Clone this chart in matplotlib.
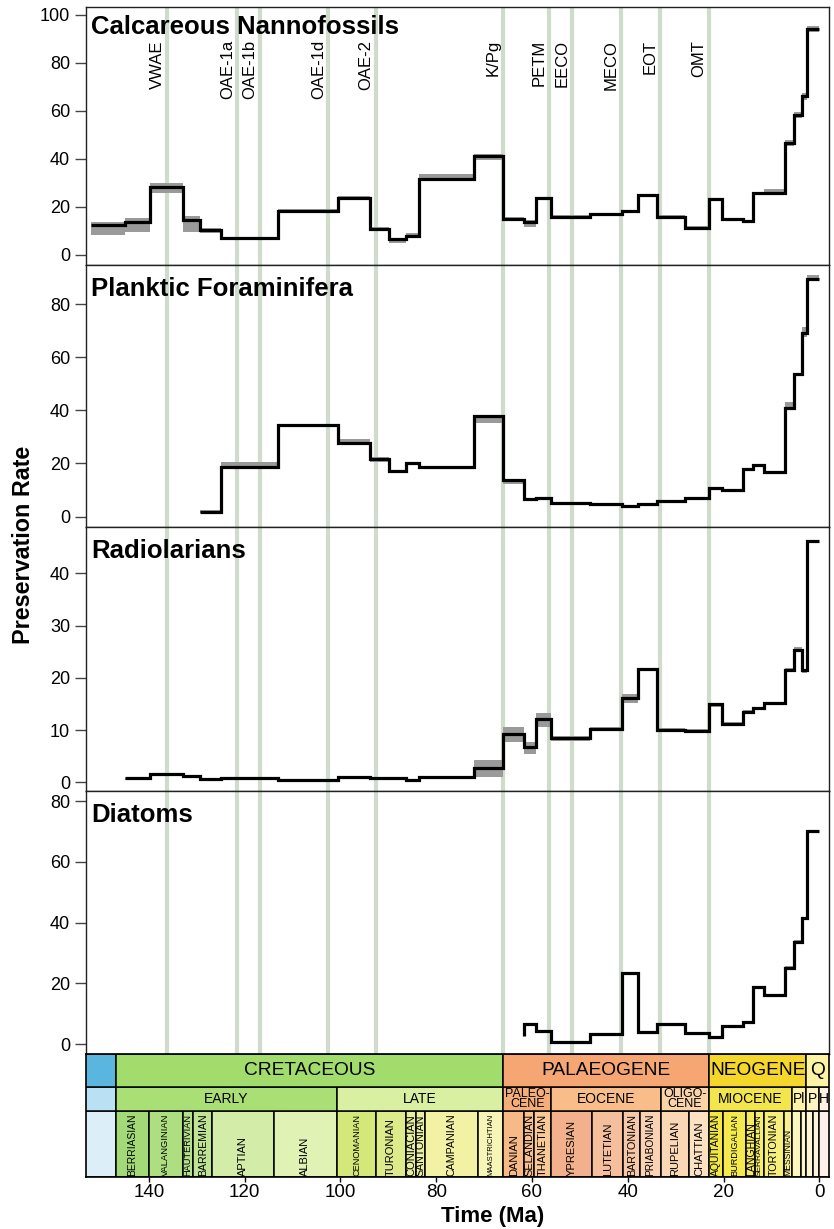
import matplotlib
matplotlib.use('Agg')
import matplotlib.pyplot as plt
from matplotlib.patches import Rectangle
import numpy as np

plt.rcParams['font.family'] = ['Liberation Sans', 'DejaVu Sans']

nan = np.nan

# ---- time bins of the rate curves (older edge, Ma) ----
bin_start = [157.3, 152.1, 145.0, 139.8, 132.9, 129.4, 125.0, 113.0, 100.5,
             93.9, 89.8, 86.3, 83.6, 72.1, 66.0, 61.6, 59.2, 56.0, 47.8,
             41.2, 37.8, 33.9, 28.1, 23.03, 20.44, 15.97, 13.82, 11.63,
             7.246, 5.333, 3.6, 2.58]
bin_end = bin_start[1:] + [0.0]

# ---- preservation rates (value, lower, upper) per bin ----
nanno_rate = [12.4, 12.4, 13.9, 28.5, 14.6, 10.4, 7.0, 18.5, 23.9, 11.0, 6.5,
              7.9, 31.7, 41.4, 15.0, 13.9, 23.6, 16.0, 17.1, 18.2, 24.9, 16.0,
              11.4, 23.3, 15.0, 14.2, 25.7, 26.0, 46.8, 58.3, 66.4, 94.2]
nanno_lo = [12.4, 8.3, 9.5, 26.0, 9.7, 9.0, 6.5, 18.0, 22.9, 10.5, 5.1,
            7.4, 31.3, 39.6, 14.2, 11.8, 23.1, 15.5, 16.6, 17.7, 24.4, 15.5,
            10.9, 22.8, 14.5, 13.7, 25.2, 25.8, 45.4, 57.0, 64.5, 92.9]
nanno_hi = [12.4, 13.9, 15.3, 30.1, 16.3, 11.1, 7.5, 19.0, 24.6, 11.5, 7.0,
            9.0, 33.8, 42.1, 15.8, 14.5, 24.1, 16.5, 17.6, 18.7, 25.4, 16.5,
            11.9, 23.8, 15.5, 14.7, 26.2, 27.4, 47.9, 59.5, 67.5, 95.4]

plank_rate = [nan, nan, nan, nan, 1.9, 1.9, 18.8, 34.5, 27.6, 21.7, 17.3,
              20.1, 18.8, 37.9, 13.8, 6.7, 7.0, 5.0, 4.7, 4.1, 4.7, 6.0,
              6.9, 10.9, 10.0, 17.9, 19.4, 16.7, 40.8, 53.6, 69.0, 89.3]
plank_lo = [nan, nan, nan, nan, 1.9, 1.5, 18.2, 34.1, 27.2, 20.7, 16.9,
            19.7, 18.4, 35.1, 12.3, 6.3, 6.6, 4.6, 4.3, 3.7, 4.3, 5.6,
            6.5, 10.5, 9.6, 17.5, 19.0, 16.3, 40.4, 53.2, 67.7, 88.9]
plank_hi = [nan, nan, nan, nan, 1.9, 2.3, 20.7, 34.9, 29.2, 22.6, 17.7,
            20.5, 19.2, 38.3, 14.2, 7.1, 7.4, 5.4, 5.1, 4.5, 5.1, 6.4,
            7.3, 11.3, 10.4, 18.3, 19.8, 17.1, 43.2, 54.0, 71.5, 90.9]

rad_rate = [nan, 0.8, 0.8, 1.6, 1.2, 0.6, 0.9, 0.4, 1.1, 0.9, 0.9, 0.4,
            1.1, 2.7, 9.2, 6.8, 12.1, 8.4, 10.2, 16.1, 21.6, 10.0, 9.9,
            14.9, 11.2, 13.5, 14.2, 15.1, 21.5, 25.3, 21.5, 46.2]
rad_lo = [nan, 0.8, 0.4, 1.4, 1.0, 0.4, 0.7, 0.2, 0.9, 0.7, 0.7, 0.2,
          0.9, 1.0, 7.8, 5.5, 10.6, 8.0, 9.9, 15.2, 21.3, 9.7, 9.6,
          14.5, 10.9, 13.2, 13.9, 14.8, 21.2, 25.0, 20.9, 46.0]
rad_hi = [nan, 0.8, 0.9, 1.8, 1.4, 0.8, 1.1, 0.6, 1.3, 1.1, 1.1, 0.6,
          1.3, 4.3, 10.6, 7.8, 13.2, 8.8, 10.5, 16.9, 21.9, 10.3, 10.2,
          15.2, 11.5, 13.8, 14.5, 15.4, 21.8, 25.8, 21.7, 46.4]

diat_rate = [nan] * 14 + [2.6, 6.6, 4.4, 0.6, 3.2, 23.3, 4.1, 6.6, 3.7, 2.4,
                          5.9, 7.4, 18.9, 16.1, 25.1, 33.7, 41.4, 70.1]
diat_lo = [nan] * 14 + [2.6, 6.3, 4.1, 0.3, 2.9, 23.0, 3.8, 6.3, 3.4, 2.1,
                        5.6, 7.1, 18.6, 15.8, 24.6, 33.2, 40.9, 69.8]
diat_hi = [nan] * 14 + [2.6, 6.9, 4.7, 0.9, 3.5, 23.6, 4.4, 6.9, 4.0, 2.7,
                        6.2, 7.7, 19.2, 16.4, 25.6, 34.2, 41.9, 70.4]

panel_titles = ['Calcareous Nannofossils', 'Planktic Foraminifera',
                'Radiolarians', 'Diatoms']
panel_ylims = [(-4.2, 103.2), (-3.8, 94.7), (-1.6, 48.9), (-3.1, 83.4)]
panel_yticks = [np.arange(0, 101, 20), np.arange(0, 81, 20),
                np.arange(0, 41, 10), np.arange(0, 81, 20)]

# ---- events ----
event_names = ['VWAE', 'OAE-1a', 'OAE-1b', 'OAE-1d', 'OAE-2', 'K/Pg',
               'PETM', 'EECO', 'MECO', 'EOT', 'OMT']
event_ages = [136.1, 121.5, 116.8, 102.5, 92.6, 66.0, 56.5, 51.6, 41.5,
              33.3, 23.1]

# ---- timescale (as drawn under the plot) ----
period_names = ['', 'CRETACEOUS', 'PALAEOGENE', 'NEOGENE', 'Q']
period_edges = [160, 146.8, 66.0, 23.0, 2.8, -5]
period_colors = ['#5BB6DF', '#A2DC6C', '#F5A673', '#F4D72A', '#FCF3A5']

epoch_names = ['', 'EARLY', 'LATE', 'PALEO-\nCENE', 'EOCENE', 'OLIGO-\nCENE',
               'MIOCENE', 'Pl', 'P', 'H']
epoch_edges = [160, 146.8, 100.7, 66.0, 56.0, 33.1, 23.0, 5.8, 2.8, 0.0, -5]
epoch_colors = ['#B9E1F3', '#A9DF75', '#D9F0A3', '#F6AE79', '#F8BD88',
                '#FAD4A8', '#F3E64C', '#FBF2A7', '#FDF4C2', '#FDF0E4']

stage_names = ['', 'BERRIASIAN', 'VALANGINIAN', 'HAUTERIVIAN', 'BARREMIAN',
               'APTIAN', 'ALBIAN', 'CENOMANIAN', 'TURONIAN', 'CONIACIAN',
               'SANTONIAN', 'CAMPANIAN', 'MAASTRICHTIAN', 'DANIAN',
               'SELANDIAN', 'THANETIAN', 'YPRESIAN', 'LUTETIAN', 'BARTONIAN',
               'PRIABONIAN', 'RUPELIAN', 'CHATTIAN', 'AQUITANIAN',
               'BURDIGALIAN', 'LANGHIAN', 'SERRAVALLIAN', 'TORTONIAN',
               'MESSINIAN', '', '', '', '', '']
stage_edges = [160, 146.8, 140.0, 132.9, 130.7, 126.7, 113.9, 100.7, 92.5,
               86.3, 84.2, 82.3, 71.3, 66.0, 61.6, 59.5, 56.0, 47.5, 40.9,
               37.4, 33.1, 27.3, 23.0, 20.2, 15.3, 13.4, 11.6, 7.4, 5.8,
               3.9, 2.8, 1.4, 0.0, -5]
stage_colors = ['#DCEFF9', '#A3DA77', '#ADDE80', '#B5E18A', '#BFE494',
                '#D3ECA8', '#E1F2B5', '#D4E779', '#DEEB8B', '#E6EE99',
                '#EBF0A4', '#F3F2A4', '#F7F4B8', '#F7B985', '#F8C18F',
                '#F8C897', '#F3B08C', '#F5BE9D', '#F7C8A8', '#F9D1B3',
                '#FBD8B5', '#FCE2C3', '#F3E843', '#F4EA4E', '#F5EB5C',
                '#F6ED6C', '#F7EF7C', '#F8F08D', '#FBF5BE', '#FCF6C9',
                '#FDF5D6', '#FDF3DC', '#FDF0EA']

W, H = 834, 1229
XLIM = (153.1, -2.0)
X0, X1 = 86, 829
panel_px = [(7.3, 265.0), (265.0, 526.7), (526.7, 790.7), (790.7, 1053.5)]
ts_px = (1053.5, 1177.0)
title_drop = [5.5, 8.6, 8.6, 8.6]  # points below the panel top


def add_ax(top, bot):
    return fig.add_axes([X0 / W, 1 - bot / H, (X1 - X0) / W, (bot - top) / H])


def draw_series(ax, rate, lo, hi):
    rate = np.asarray(rate, float)
    idx = np.where(~np.isnan(rate))[0]
    # grey uncertainty boxes
    for i in idx[1:]:
        ax.fill_between([bin_start[i], bin_end[i]], lo[i], hi[i],
                        color='#9a9a9a', lw=0, zorder=2)
    # step line: first bin only shows as a stub at its young edge
    xs, ys = [bin_end[idx[0]]], [rate[idx[0]]]
    for i in idx[1:]:
        xs += [bin_start[i], bin_end[i]]
        ys += [rate[i], rate[i]]
    ax.plot(xs, ys, color='black', lw=2.3, solid_joinstyle='miter',
            solid_capstyle='butt', zorder=3)


fig = plt.figure(figsize=(W / 100, H / 100), dpi=100)

series = [(nanno_rate, nanno_lo, nanno_hi), (plank_rate, plank_lo, plank_hi),
          (rad_rate, rad_lo, rad_hi), (diat_rate, diat_lo, diat_hi)]

for k, (top, bot) in enumerate(panel_px):
    ax = add_ax(top, bot)
    ax.set_xlim(*XLIM)
    ax.set_ylim(*panel_ylims[k])
    for age in event_ages:
        ax.axvline(age, color='#cfdccb', lw=3.0, zorder=1)
    rate, lo, hi = series[k]
    draw_series(ax, rate, lo, hi)
    ax.annotate(panel_titles[k], xy=(0, 1), xycoords='axes fraction',
                xytext=(3.5, -title_drop[k]), textcoords='offset points',
                ha='left', va='top', fontsize=18.5, fontweight='bold', zorder=5)
    ax.set_yticks(panel_yticks[k])
    ax.tick_params(axis='y', direction='out', length=8, width=1,
                   color='#444444', pad=3.5, labelsize=13)
    ax.set_xticks([])
    for sp in ax.spines.values():
        sp.set_linewidth(1.0)
        sp.set_color('#222222')
    if k == 0:
        for name, age in zip(event_names, event_ages):
            ax.text(age + 0.5, 89.5, name, rotation=90, ha='right', va='top',
                    fontsize=12, zorder=4)

# ---- timescale strip ----
ts = add_ax(*ts_px)
ts.set_xlim(*XLIM)
ts.set_ylim(0, 123.5)
ts.set_yticks([])
ts.set_xticks(np.arange(0, 141, 20))
ts.tick_params(axis='x', direction='out', length=3.6, width=1, pad=1.5,
               labelsize=13.5)
for sp in ts.spines.values():
    sp.set_linewidth(1.2)

rows = [(stage_edges, stage_colors, 0, 66.0),
        (epoch_edges, epoch_colors, 66.0, 24.0),
        (period_edges, period_colors, 90.0, 33.5)]
for edges, colors, y0, h in rows:
    for s, e, c in zip(edges[:-1], edges[1:], colors):
        ts.add_patch(Rectangle((e, y0), s - e, h, facecolor=c,
                               edgecolor='black', lw=1.1))


def clip_mid(s, e):
    s = min(s, XLIM[0])
    e = max(e, XLIM[1])
    return (s + e) / 2


for name, s, e in zip(period_names, period_edges[:-1], period_edges[1:]):
    if name:
        ts.text(clip_mid(s, e), 90 + 33.5 / 2, name, ha='center', va='center',
                fontsize=13.8, clip_on=True)
for name, s, e in zip(epoch_names, epoch_edges[:-1], epoch_edges[1:]):
    if name:
        two = '\n' in name
        ts.text(clip_mid(s, e), 66 + 12, name, ha='center', va='center',
                fontsize=9 if two else 10, linespacing=0.85, clip_on=True)

renderer = fig.canvas.get_renderer()
for name, s, e in zip(stage_names, stage_edges[:-1], stage_edges[1:]):
    if not name:
        continue
    t = ts.text((s + e) / 2, 1.5, name, rotation=90, ha='center',
                va='bottom', fontsize=8)
    bb = t.get_window_extent(renderer)
    px = ts.transData.transform([(s, 0), (e, 0)])
    cell_w = abs(px[1, 0] - px[0, 0])
    scale = min(1.0, 62 / bb.height, (cell_w - 1.5) / (bb.width * 0.8))
    t.set_fontsize(8 * scale)

fig.text(24 / W, 1 - 545 / H, 'Preservation Rate', rotation=90, ha='center',
         va='center', fontsize=16.8, fontweight='bold')
fig.text(493 / W, 7 / H, 'Time (Ma)', ha='center', va='baseline',
         fontsize=16, fontweight='bold')

fig.savefig('out.png', dpi=100)
